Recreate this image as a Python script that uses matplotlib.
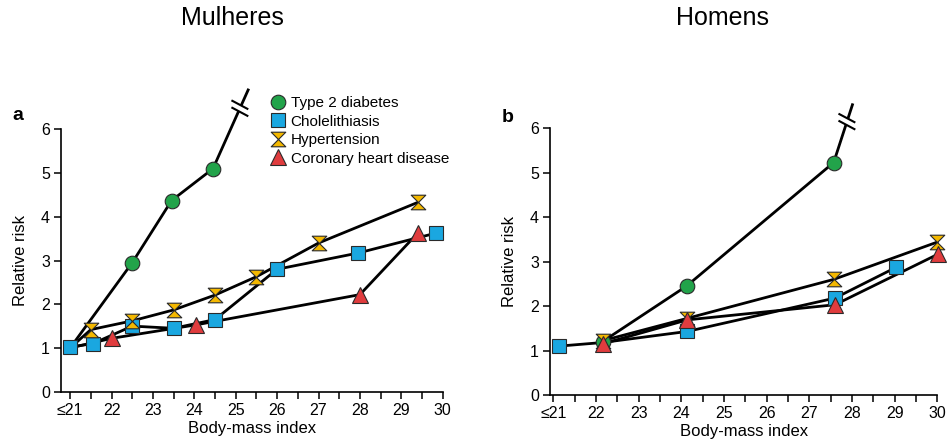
import numpy as np
import matplotlib
matplotlib.use('Agg')
import matplotlib.pyplot as plt
from matplotlib.path import Path
from matplotlib.lines import Line2D

plt.rcParams['font.family'] = ['Liberation Sans', 'DejaVu Sans']

# ---- data ----
labels = ['Type 2 diabetes', 'Cholelithiasis', 'Hypertension', 'Coronary heart disease']
xtick_labels = ['\u226421', '22', '23', '24', '25', '26', '27', '28', '29', '30']

# panel a: women
a_diab_x = [21, 22.5, 23.45, 24.45]
a_diab_y = [1.0, 2.95, 4.37, 5.1]
a_diab_end = (25.3, 6.9)      # line runs off the scale
a_diab_break = (25.1, 6.48)
a_chol_x = [21, 21.55, 22.5, 23.5, 24.5, 26.0, 27.95, 29.85]
a_chol_y = [1.02, 1.1, 1.5, 1.45, 1.65, 2.8, 3.17, 3.63]
a_hyp_x = [21, 21.5, 22.5, 23.5, 24.5, 25.5, 27.0, 29.4]
a_hyp_y = [1.0, 1.42, 1.62, 1.87, 2.21, 2.63, 3.4, 4.33]
a_chd_x = [21, 22.0, 24.05, 28.0, 29.4]
a_chd_y = [1.0, 1.22, 1.53, 2.22, 3.63]

# panel b: men
b_diab_x = [22.15, 24.12, 27.57]
b_diab_y = [1.2, 2.45, 5.23]
b_diab_end = (28.01, 6.53)
b_diab_break = (27.88, 6.15)
b_chol_x = [21.14, 22.15, 24.14, 27.6, 29.03]
b_chol_y = [1.1, 1.18, 1.43, 2.18, 2.87]
b_hyp_x = [22.15, 24.12, 27.57, 30.0]
b_hyp_y = [1.22, 1.72, 2.6, 3.44]
b_chd_x = [22.15, 24.14, 27.6, 30.02]
b_chd_y = [1.15, 1.69, 2.03, 3.17]

green = '#22a34a'
blue = '#1aa7e0'
yellow = '#f4b800'
red = '#e03c3e'
edge = '#2a2a2a'

# hourglass marker: two triangles tip to tip
hourglass = Path([(-1, 1), (1, 1), (0, 0), (-1, 1),
                  (0, 0), (1, -1), (-1, -1), (0, 0)],
                 [Path.MOVETO, Path.LINETO, Path.LINETO, Path.CLOSEPOLY,
                  Path.MOVETO, Path.LINETO, Path.LINETO, Path.CLOSEPOLY])

styles = [dict(marker='o', color=green, ms=10.5),
          dict(marker='s', color=blue, ms=10),
          dict(marker=hourglass, color=yellow, ms=10.5),
          dict(marker='^', color=red, ms=11)]

fig = plt.figure(figsize=(9.49, 4.43), dpi=100)
ax1 = fig.add_axes([0.0643, 0.1158, 0.4022, 0.5923])
ax2 = fig.add_axes([0.5796, 0.1084, 0.4081, 0.6020])


def style_axis(ax, xmin):
    ax.set_xlim(xmin, 30)
    ax.set_ylim(0, 6)
    ax.spines['top'].set_visible(False)
    ax.spines['right'].set_visible(False)
    ax.spines['left'].set_linewidth(1.2)
    ax.spines['bottom'].set_linewidth(1.2)
    ax.set_xticks(np.arange(21, 30.01, 0.5))
    ax.set_xticklabels([xtick_labels[i // 2] if i % 2 == 0 else '' for i in range(19)])
    ax.set_yticks(range(7))
    ax.tick_params(direction='out', length=5, width=1.1, labelsize=11.5, pad=3)
    ax.set_xlabel('Body-mass index', fontsize=12, labelpad=2)
    ax.set_ylabel('Relative risk', fontsize=12, labelpad=9)


def draw_break(ax, pt):
    # two short slanted strokes with a gap in the line between them
    cx, cy = ax.transData.transform(pt)
    ang = np.deg2rad(-28)
    dx, dy = 8.5 * np.cos(ang), 8.5 * np.sin(ang)
    for off in (-3.5, 3.5):
        ax.add_line(Line2D([cx - dx, cx + dx], [cy - dy + off, cy + dy + off],
                           transform=None, color='black', lw=1.5,
                           clip_on=False, zorder=4))


def draw_panel(ax, series, marks, diab_end, diab_break):
    for (x, y), st, every in zip(series, styles, marks):
        xs, ys = list(x), list(y)
        ax.plot(xs, ys, color='black', lw=2, zorder=2, clip_on=False,
                solid_capstyle='round')
        mx = [xs[i] for i in every]
        my = [ys[i] for i in every]
        ax.plot(mx, my, ls='none', marker=st['marker'], ms=st['ms'],
                mfc=st['color'], mec=edge, mew=0.8, zorder=3, clip_on=False)
    # off-scale part of the diabetes line, with a gap at the break
    dx0, dy0 = series[0][0][-1], series[0][1][-1]
    bx, by = diab_break
    t_lo = (by - 0.09 - dy0) / (diab_end[1] - dy0)
    t_hi = (by + 0.09 - dy0) / (diab_end[1] - dy0)
    lx = dx0 + t_lo * (diab_end[0] - dx0)
    hx = dx0 + t_hi * (diab_end[0] - dx0)
    ax.plot([dx0, lx], [dy0, by - 0.09], color='black', lw=2, clip_on=False, zorder=2)
    ax.plot([hx, diab_end[0]], [by + 0.09, diab_end[1]], color='black', lw=2,
            clip_on=False, zorder=2)
    draw_break(ax, diab_break)


style_axis(ax1, 20.78)
style_axis(ax2, 20.92)

draw_panel(ax1,
           [(a_diab_x, a_diab_y), (a_chol_x, a_chol_y), (a_hyp_x, a_hyp_y), (a_chd_x, a_chd_y)],
           [range(1, 4), range(1, 8), range(1, 8), range(1, 5)],
           a_diab_end, a_diab_break)
# reference square at BMI <=21 sits on top of everything
ax1.plot(a_chol_x[:1], a_chol_y[:1], ls='none', marker='s', ms=10, mfc=blue,
         mec=edge, mew=0.8, zorder=5, clip_on=False)

draw_panel(ax2,
           [(b_diab_x, b_diab_y), (b_chol_x, b_chol_y), (b_hyp_x, b_hyp_y), (b_chd_x, b_chd_y)],
           [range(0, 3), [0, 2, 3, 4], range(0, 4), range(0, 4)],
           b_diab_end, b_diab_break)

fig.text(18 / 949, 1 - 115 / 443, 'a', fontsize=14, fontweight='bold', ha='center', va='center')
fig.text(508 / 949, 1 - 117 / 443, 'b', fontsize=14, fontweight='bold', ha='center', va='center')

fig.text(232 / 949, 1 - 18 / 443, 'Mulheres', fontsize=18, ha='center', va='center')
fig.text(723 / 949, 1 - 18 / 443, 'Homens', fontsize=18, ha='center', va='center')

handles = [Line2D([], [], ls='none', marker=st['marker'], ms=st['ms'], mfc=st['color'],
                  mec=edge, mew=0.8) for st in styles]
fig.legend(handles, labels, loc='upper left', bbox_to_anchor=(270 / 949, 1 - 96 / 443),
           frameon=False, fontsize=11, handlelength=1.0, handletextpad=0.35,
           labelspacing=0.3, borderpad=0, borderaxespad=0)

fig.savefig('out.png', dpi=100)
